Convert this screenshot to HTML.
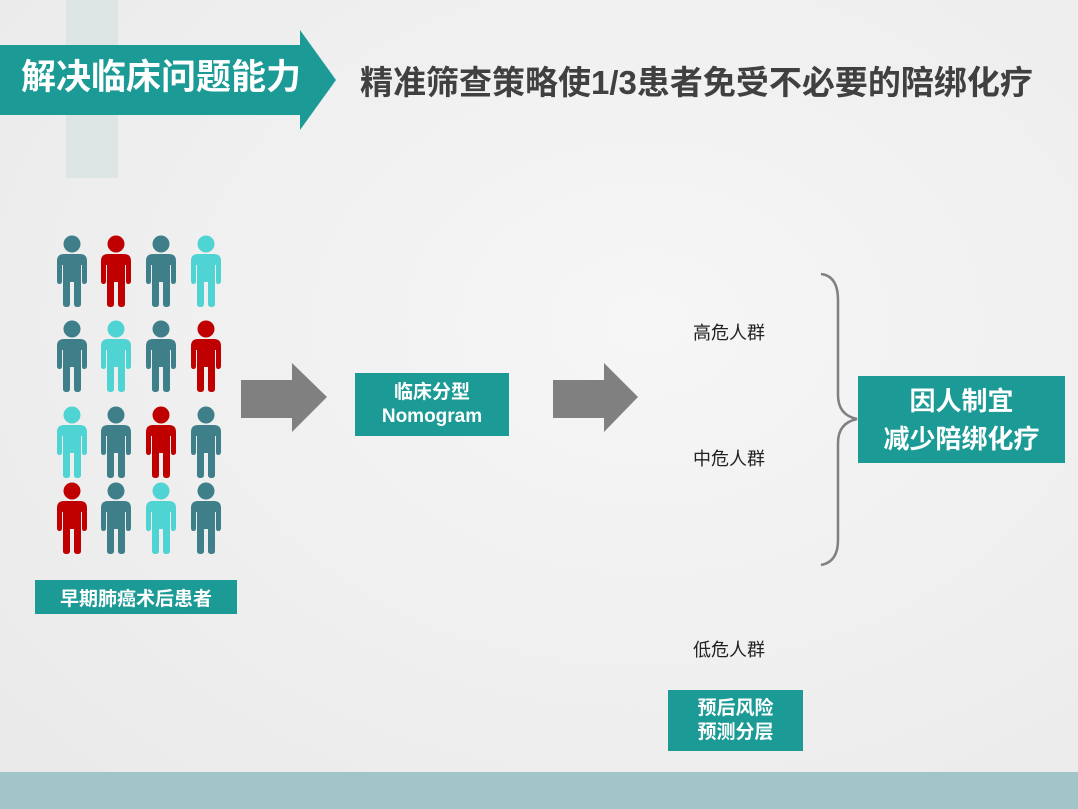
<!DOCTYPE html>
<html><head><meta charset="utf-8"><style>
body{margin:0;width:1078px;height:809px;overflow:hidden;background:radial-gradient(ellipse at 60% 40%,#f6f6f6,#e9e9e9);position:relative;font-family:"Liberation Sans","Noto Sans CJK SC",sans-serif}
.a{position:absolute}
.box{position:absolute;background:#1c9a96;color:#fff;font-weight:bold;text-align:center;display:flex;flex-direction:column;justify-content:center;align-items:center}
.lbl{position:absolute;font-size:18px;color:#222}
</style></head><body>
<div class="a" style="left:66px;top:0;width:52px;height:178px;background:#dde6e5"></div>
<svg class="a" style="left:0;top:0" width="1078" height="809">
<polygon points="0,45 300,45 300,30 336,80 300,130 300,115 0,115" fill="#1c9a96"/>
<polygon points="241,380 292,380 292,363 327,397 292,432 292,418 241,418" fill="#808080"/>
<polygon points="553,380 604,380 604,363 638,397 604,432 604,418 553,418" fill="#808080"/>
<path d="M821,274 Q838,276 838,300 L838,395 Q838,415 857,419 Q838,423 838,443 L838,540 Q838,562 821,565" fill="none" stroke="#808080" stroke-width="2.5"/>
<defs><g id="p"><circle cx="15" cy="9" r="8.5"/><path d="M7,19 H23 Q30,19 30,26 V46 Q30,49 27,49 Q25,49 25,46 V30 H24 V69 Q24,72 20.5,72 Q17,72 17,69 V47 H13 V69 Q13,72 9.5,72 Q6,72 6,69 V30 H5 V46 Q5,49 2.5,49 Q0,49 0,46 V26 Q0,19 7,19Z"/></g></defs>
<g transform="translate(57,235)">
<use href="#p" x="0" y="0" fill="#3f7f8a"/><use href="#p" x="44" y="0" fill="#c00000"/><use href="#p" x="89" y="0" fill="#3f7f8a"/><use href="#p" x="134" y="0" fill="#4fd3d3"/>
<use href="#p" x="0" y="85" fill="#3f7f8a"/><use href="#p" x="44" y="85" fill="#4fd3d3"/><use href="#p" x="89" y="85" fill="#3f7f8a"/><use href="#p" x="134" y="85" fill="#c00000"/>
<use href="#p" x="0" y="171" fill="#4fd3d3"/><use href="#p" x="44" y="171" fill="#3f7f8a"/><use href="#p" x="89" y="171" fill="#c00000"/><use href="#p" x="134" y="171" fill="#3f7f8a"/>
<use href="#p" x="0" y="247" fill="#c00000"/><use href="#p" x="44" y="247" fill="#3f7f8a"/><use href="#p" x="89" y="247" fill="#4fd3d3"/><use href="#p" x="134" y="247" fill="#3f7f8a"/>
</g>
</svg>
<div class="a" style="left:21px;top:49px;font-size:35px;font-weight:bold;color:#fff;white-space:nowrap">解决临床问题能力</div>
<div class="a" style="left:360px;top:56px;font-size:33px;font-weight:bold;color:#404040;white-space:nowrap">精准筛查策略使1/3患者免受不必要的陪绑化疗</div>
<div class="box" style="left:355px;top:373px;width:154px;height:63px;font-size:19px;line-height:24px">临床分型<br>Nomogram</div>
<div class="box" style="left:858px;top:376px;width:207px;height:87px;font-size:26px;line-height:38px">因人制宜<br>减少陪绑化疗</div>
<div class="box" style="left:35px;top:580px;width:202px;height:34px;font-size:19px">早期肺癌术后患者</div>
<div class="box" style="left:668px;top:690px;width:135px;height:61px;font-size:19px;line-height:24px">预后风险<br>预测分层</div>
<div class="lbl" style="left:693px;top:319px">高危人群</div>
<div class="lbl" style="left:693px;top:445px">中危人群</div>
<div class="lbl" style="left:693px;top:636px">低危人群</div>
<div class="a" style="left:0;top:772px;width:1078px;height:37px;background:#a2c6c8"></div>
</body></html>
